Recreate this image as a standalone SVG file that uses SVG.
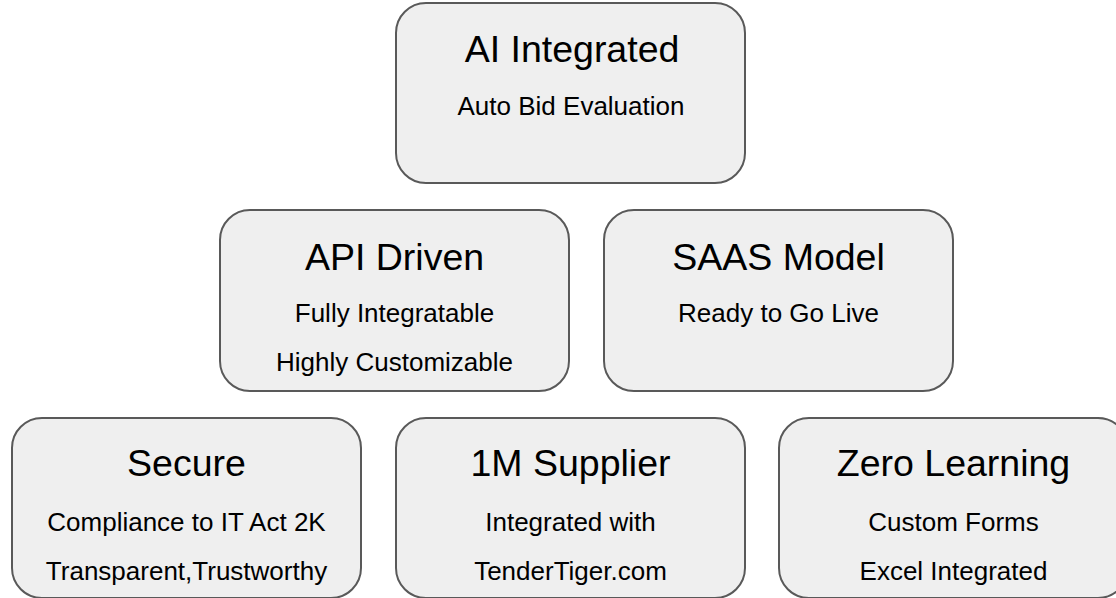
<svg xmlns="http://www.w3.org/2000/svg" width="1116" height="598" viewBox="0 0 1116 598">
<style>
.box{fill:#efefef;stroke:#595959;stroke-width:2}
.t{font-family:"Liberation Sans",Arial,sans-serif;font-size:37.5px;fill:#000;text-anchor:middle}
.s{font-family:"Liberation Sans",Arial,sans-serif;font-size:26px;fill:#000;text-anchor:middle}
</style>
<rect width="1116" height="598" fill="#fff"/>
<g id="connectors"/>
<g id="ai">
<rect class="box" x="396" y="3" width="349" height="180" rx="30"/>
<text class="t" x="572" y="62">AI Integrated</text>
<text class="s" x="571" y="115">Auto Bid Evaluation</text>
</g>
<g id="api">
<rect class="box" x="220" y="210" width="349" height="181" rx="30"/>
<text class="t" x="394.5" y="270">API Driven</text>
<text class="s" x="394.5" y="322">Fully Integratable</text>
<text class="s" x="394.5" y="371">Highly Customizable</text>
</g>
<g id="saas">
<rect class="box" x="604" y="210" width="349" height="181" rx="30"/>
<text class="t" x="778.5" y="270">SAAS Model</text>
<text class="s" x="778.5" y="322">Ready to Go Live</text>
</g>
<g id="secure">
<rect class="box" x="12" y="418" width="349" height="180" rx="30"/>
<text class="t" x="186.5" y="476">Secure</text>
<text class="s" x="186.5" y="531">Compliance to IT Act 2K</text>
<text class="s" x="186.5" y="580">Transparent,Trustworthy</text>
</g>
<g id="supplier">
<rect class="box" x="396" y="418" width="349" height="180" rx="30"/>
<text class="t" x="570.5" y="476">1M Supplier</text>
<text class="s" x="570.5" y="531">Integrated with</text>
<text class="s" x="570.5" y="580">TenderTiger.com</text>
</g>
<g id="zero">
<rect class="box" x="779" y="418" width="349" height="180" rx="30"/>
<text class="t" x="953.5" y="476">Zero Learning</text>
<text class="s" x="953.5" y="531">Custom Forms</text>
<text class="s" x="953.5" y="580">Excel Integrated</text>
</g>
</svg>
